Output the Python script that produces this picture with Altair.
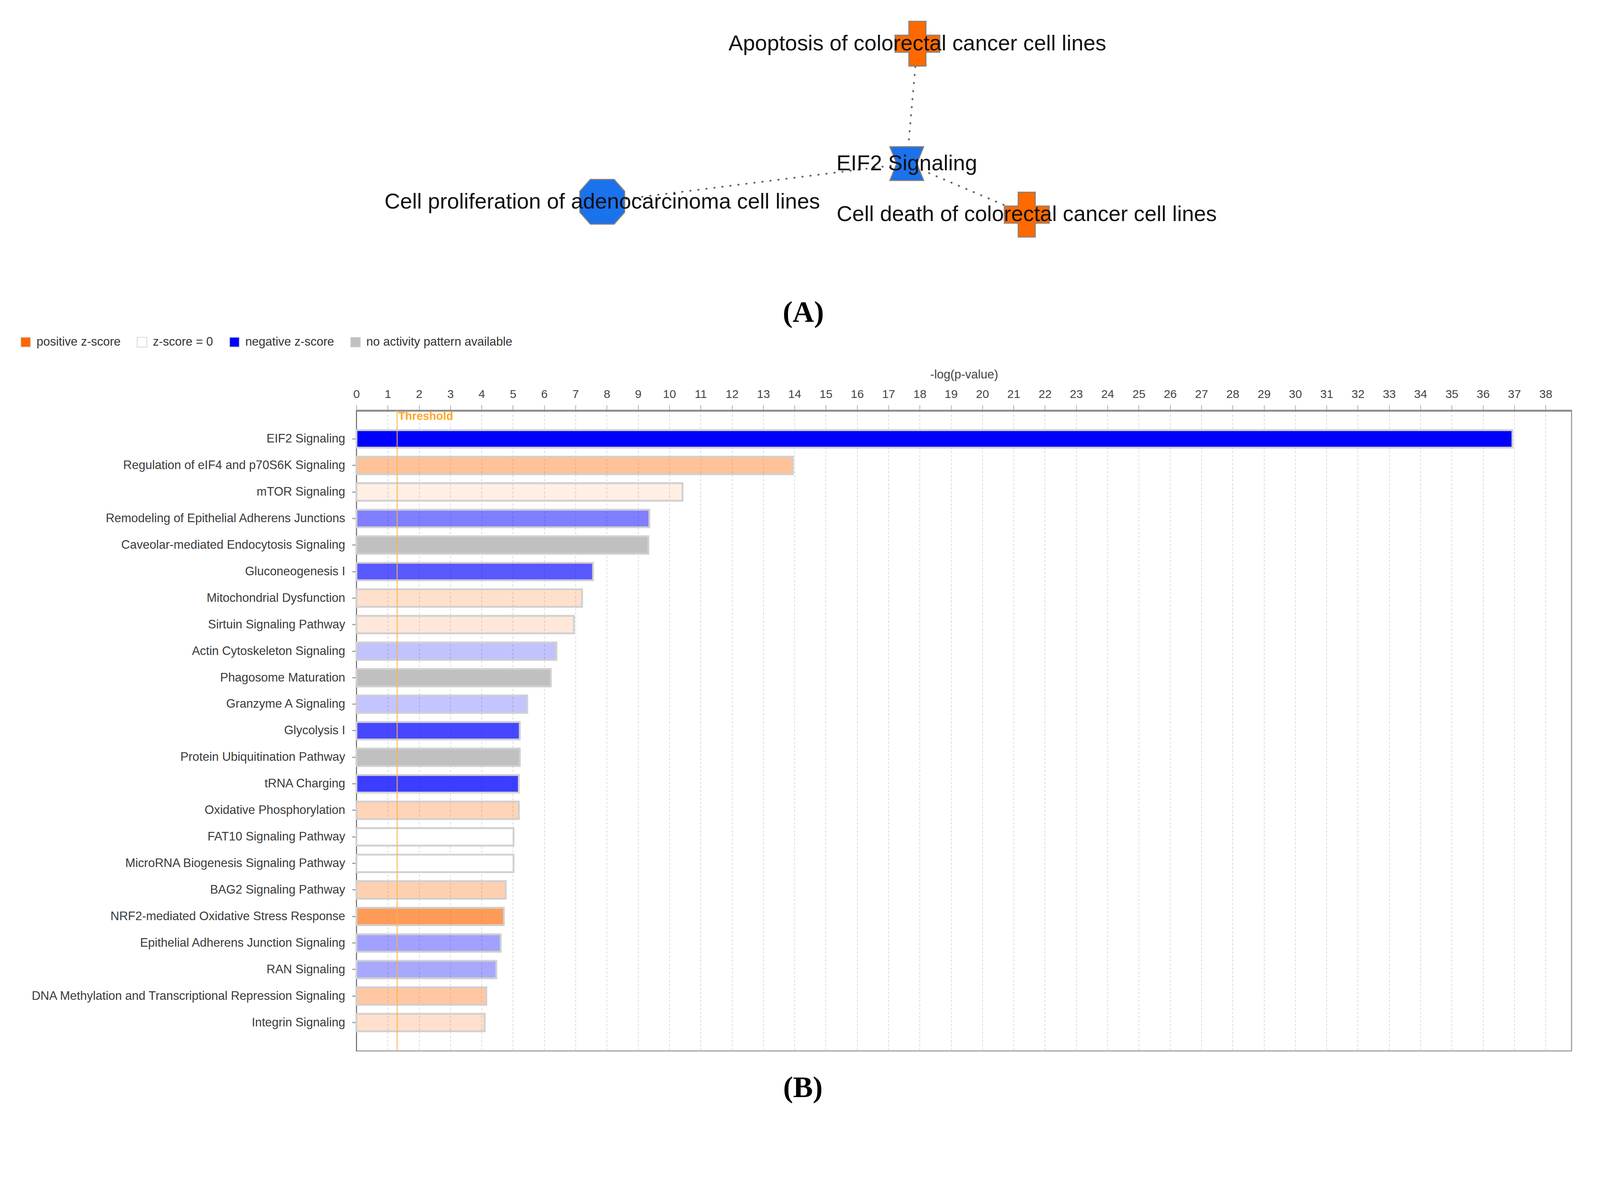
import altair as alt
import pandas as pd

# ---------------- Panel B data (IPA canonical pathways) ----------------
pathways = [
    "EIF2 Signaling",
    "Regulation of eIF4 and p70S6K Signaling",
    "mTOR Signaling",
    "Remodeling of Epithelial Adherens Junctions",
    "Caveolar-mediated Endocytosis Signaling",
    "Gluconeogenesis I",
    "Mitochondrial Dysfunction",
    "Sirtuin Signaling Pathway",
    "Actin Cytoskeleton Signaling",
    "Phagosome Maturation",
    "Granzyme A Signaling",
    "Glycolysis I",
    "Protein Ubiquitination Pathway",
    "tRNA Charging",
    "Oxidative Phosphorylation",
    "FAT10 Signaling Pathway",
    "MicroRNA Biogenesis Signaling Pathway",
    "BAG2 Signaling Pathway",
    "NRF2-mediated Oxidative Stress Response",
    "Epithelial Adherens Junction Signaling",
    "RAN Signaling",
    "DNA Methylation and Transcriptional Repression Signaling",
    "Integrin Signaling",
]
neglog_p = [36.94, 13.95, 10.42, 9.36, 9.33, 7.56, 7.21, 6.95, 6.39, 6.21, 5.46, 5.22,
            5.22, 5.19, 5.19, 5.02, 5.02, 4.77, 4.71, 4.61, 4.47, 4.15, 4.10]
POS, ZERO, NEG, NA = ("positive z-score", "z-score = 0", "negative z-score",
                      "no activity pattern available")
z_category = [NEG, POS, POS, NEG, NA, NEG, POS, POS, NEG, NA, NEG, NEG,
              NA, NEG, POS, ZERO, ZERO, POS, POS, NEG, NEG, POS, POS]
z_intensity = [1.0, 0.40, 0.10, 0.50, 1.0, 0.65, 0.20, 0.15, 0.24, 1.0, 0.23, 0.72,
               1.0, 0.76, 0.28, 1.0, 1.0, 0.31, 0.65, 0.37, 0.34, 0.36, 0.20]
legend_labels = [POS, ZERO, NEG, NA]
legend_colors = ["#ff6600", "#ffffff", "#0000ff", "#c0c0c0"]
threshold_value = [1.301]
threshold_label = ["Threshold"]
x_ticks = list(range(0, 39))

# ---------------- Panel A data (network) ----------------
node_labels = [
    "Apoptosis of colorectal cancer cell lines",
    "EIF2 Signaling",
    "Cell proliferation of adenocarcinoma cell lines",
    "Cell death of colorectal cancer cell lines",
]
node_x = [2500, 2471, 1641, 2798]   # layout coordinates of the diagram
node_y = [122, 449, 553, 588]
node_kind = ["cross", "hourglass", "octagon", "cross"]
node_state = ["increased", "decreased", "decreased", "increased"]
edge_from = [1, 1, 1]
edge_to = [0, 2, 3]
panel_labels = ["(A)", "(B)"]
panel_x = [2189, 2188]
panel_y = [856, 2970]

# ---------------- styles ----------------
SHAPE_PATH = {
    "cross": "M-0.38,-1 H0.38 V-0.38 H1 V0.38 H0.38 V1 H-0.38 V0.38 H-1 V-0.38 H-0.38 Z",
    "hourglass": "M-1,-1 H1 L0.6,0 L1,1 H-1 L-0.6,0 Z",
    "octagon": "M-0.53,-1 H0.53 L1,-0.47 V0.47 L0.53,1 H-0.53 L-1,0.47 V-0.47 Z",
}
SHAPE_SIZE = {"cross": 122 * 122, "hourglass": 92 * 92, "octagon": 122 * 122}
STATE_COLOR = {"increased": "#ff6a00", "decreased": "#1a72ec"}

W, H = 3312, 1746
PAD_L, PAD_T = 963, 1016          # top padding compensates the page offset
ORIGIN_X, ORIGIN_Y = 971, 1122    # plot-area origin within the picture
CANVAS_W, CANVAS_H = 4360, 3029
FONT = "Liberation Sans"

bars_df = pd.DataFrame({"pathway": pathways, "neglog_p": neglog_p,
                        "zcat": z_category, "alpha": z_intensity})
thr_df = pd.DataFrame({"t": threshold_value, "label": threshold_label})

xscale = alt.Scale(domain=[0, 38.83], nice=False, zero=True)

bars = alt.Chart(bars_df).mark_bar(stroke="#d0d0d0", strokeWidth=5).encode(
    x=alt.X("neglog_p:Q", scale=xscale,
            axis=alt.Axis(orient="top", values=x_ticks, format="d",
                          title="-log(p-value)", titleFontSize=33,
                          titleFontWeight="normal", titleColor="#444444",
                          titlePadding=20, labelFontSize=32, labelColor="#444444",
                          labelPadding=13, tickSize=15, tickColor="#aaaaaa",
                          tickWidth=2, domainColor="#8a8a8a", domainWidth=5,
                          grid=True, gridDash=[6, 5], gridColor="#d6d6d6",
                          gridWidth=2, labelFlush=False)),
    y=alt.Y("pathway:N", sort=pathways,
            scale=alt.Scale(paddingInner=0.34, paddingOuter=0.74),
            axis=alt.Axis(title=None, labelFontSize=33, labelColor="#3a3a3a",
                          labelLimit=2000, labelPadding=19, tickSize=12,
                          tickColor="#999999", tickWidth=3,
                          domainColor="#666666", domainWidth=2)),
    fill=alt.Fill("zcat:N",
                  scale=alt.Scale(domain=legend_labels, range=legend_colors),
                  legend=alt.Legend(orient="none", legendX=-918, legendY=-203,
                                    direction="horizontal", title=None,
                                    symbolType="square", symbolSize=700,
                                    symbolStrokeColor="#d5d5d5",
                                    symbolStrokeWidth=2, symbolOpacity=1,
                                    labelFontSize=33, labelFont=FONT,
                                    labelColor="#333333", labelLimit=2000,
                                    labelOffset=13, columnPadding=40)),
    fillOpacity=alt.FillOpacity("alpha:Q", scale=None),
)

thr_rule = alt.Chart(thr_df).mark_rule(color="#ffb347", strokeWidth=3,
                                       opacity=0.8).encode(
    x=alt.X("t:Q", scale=xscale))
thr_text = alt.Chart(thr_df).mark_text(align="left", baseline="middle", dx=3,
                                       fontSize=31, fontWeight="bold",
                                       color="#ffa726", font=FONT).encode(
    x=alt.X("t:Q", scale=xscale), y=alt.value(17), text="label:N")

bar_layer = alt.layer(bars, thr_rule, thr_text)

# ---------------- network overlay ----------------
sx = alt.Scale(domain=[0, CANVAS_W], range=[-ORIGIN_X, CANVAS_W - ORIGIN_X])
sy = alt.Scale(domain=[0, CANVAS_H], range=[-ORIGIN_Y, CANVAS_H - ORIGIN_Y])

nodes_df = pd.DataFrame({"label": node_labels, "x": node_x, "y": node_y,
                         "kind": node_kind, "state": node_state})
edges_df = pd.DataFrame({
    "x1": [node_x[i] for i in edge_from], "y1": [node_y[i] for i in edge_from],
    "x2": [node_x[j] for j in edge_to], "y2": [node_y[j] for j in edge_to]})
panels_df = pd.DataFrame({"label": panel_labels, "x": panel_x, "y": panel_y})

edges = alt.Chart(edges_df).mark_rule(color="#666666", strokeWidth=5,
                                      strokeDash=[1, 21], strokeCap="round").encode(
    x=alt.X("x1:Q", scale=sx, axis=None), y=alt.Y("y1:Q", scale=sy, axis=None),
    x2="x2:Q", y2="y2:Q")

node_layers = []
for kind, path in SHAPE_PATH.items():
    node_layers.append(
        alt.Chart(nodes_df).transform_filter(alt.datum.kind == kind)
        .mark_point(shape=path, size=SHAPE_SIZE[kind], filled=True, opacity=1,
                    stroke="#8c7f76", strokeWidth=3)
        .encode(x=alt.X("x:Q", scale=sx, axis=None),
                y=alt.Y("y:Q", scale=sy, axis=None),
                fill=alt.Fill("state:N", scale=alt.Scale(
                    domain=list(STATE_COLOR.keys()),
                    range=list(STATE_COLOR.values())), legend=None))
    )

node_text = alt.Chart(nodes_df).mark_text(fontSize=59, font=FONT, color="#111111",
                                          align="center", baseline="middle").encode(
    x=alt.X("x:Q", scale=sx, axis=None), y=alt.Y("y:Q", scale=sy, axis=None),
    text="label:N")

panel_text = alt.Chart(panels_df).mark_text(fontSize=81, font="Liberation Serif",
                                            fontWeight="bold", color="#000000",
                                            align="center", baseline="middle").encode(
    x=alt.X("x:Q", scale=sx, axis=None), y=alt.Y("y:Q", scale=sy, axis=None),
    text="label:N")

net_layer = alt.layer(edges, *node_layers, node_text, panel_text)

chart = alt.layer(bar_layer, net_layer).resolve_scale(
    x="independent", y="independent", fill="independent"
).properties(
    width=W, height=H,
    autosize=alt.AutoSizeParams(type="none"),
    padding={"left": PAD_L, "top": PAD_T, "right": 4344 - PAD_L - W,
             "bottom": 161},
).configure(font=FONT).configure_view(stroke="#9a9a9a", strokeWidth=3)

chart.save("out.html", embed_options={"renderer": "svg", "actions": False})
